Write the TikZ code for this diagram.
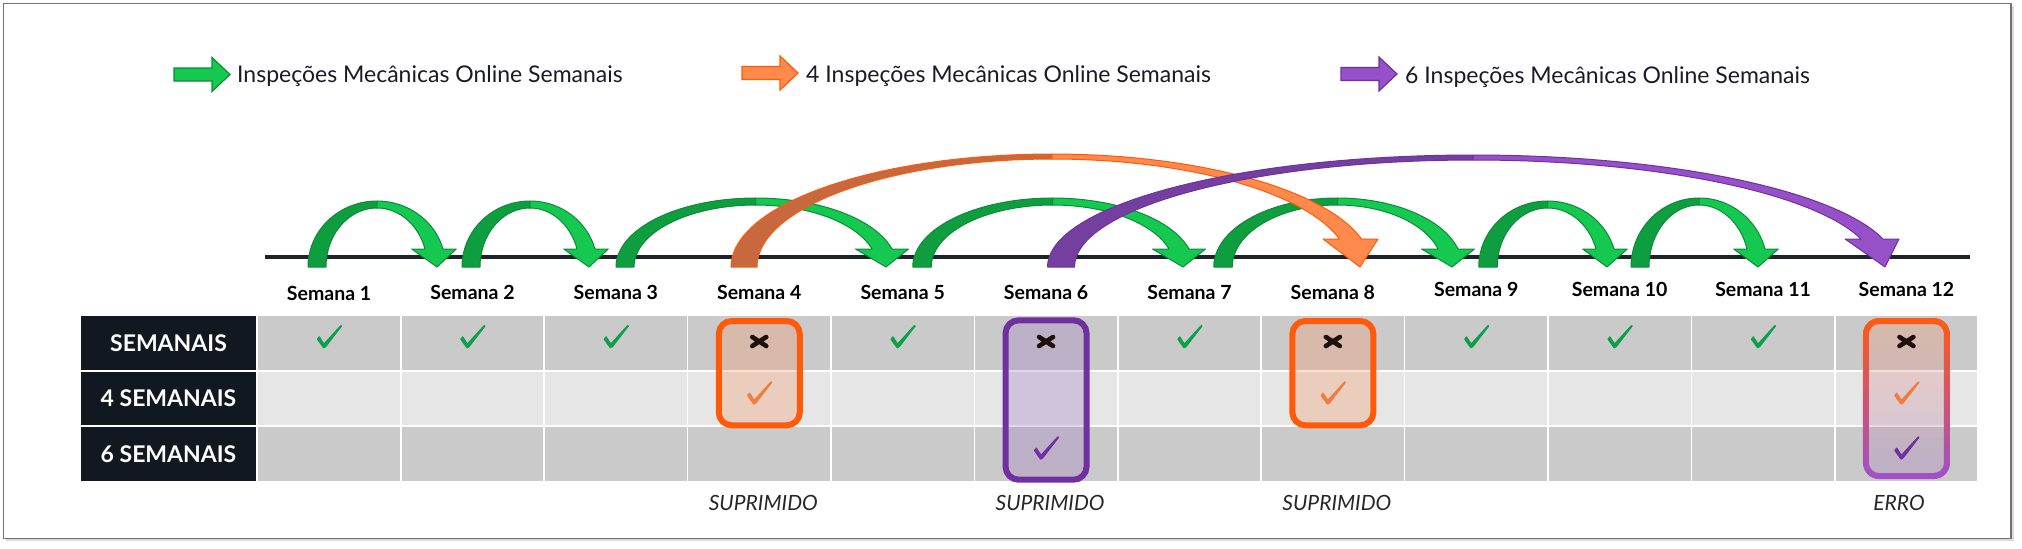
\documentclass[tikz,border=0pt]{standalone}
\usepackage{fontspec}
\setmainfont{Lato}
\definecolor{gL}{RGB}{20,200,80}
\definecolor{gD}{RGB}{14,158,64}
\definecolor{gB}{RGB}{12,140,58}
\definecolor{oL}{RGB}{255,138,76}
\definecolor{oD}{RGB}{200,104,62}
\definecolor{oB}{RGB}{255,90,10}
\definecolor{pL}{RGB}{150,80,200}
\definecolor{pD}{RGB}{115,64,160}
\definecolor{pB}{RGB}{112,48,160}
\definecolor{hdr}{RGB}{17,24,32}
\definecolor{cellA}{RGB}{202,202,202}
\definecolor{cellB}{RGB}{230,230,230}
\definecolor{tl}{RGB}{30,35,42}
\definecolor{legtext}{RGB}{26,26,40}
\definecolor{gC}{RGB}{14,160,72}
\definecolor{oC}{RGB}{240,125,60}
\definecolor{pC}{RGB}{112,48,160}
\definecolor{xC}{RGB}{32,16,12}
\definecolor{oF}{RGB}{248,150,100}
\definecolor{pF}{RGB}{160,120,195}
\definecolor{bT}{RGB}{255,90,20}
\definecolor{bM}{RGB}{232,80,140}
\definecolor{bBt}{RGB}{160,80,200}
\newcommand\arrTT{7}
\newcommand\carrow[9]{%
\pgfmathsetmacro\cxa{#1-#2/2}%
\pgfmathsetmacro\cxb{#1+#2/2}%
\pgfmathsetmacro\cxm{(#1+#3)/2}%
\pgfmathsetmacro\chx{#3-#7}%
\pgfmathsetmacro\cxr{\chx+#8}%
\pgfmathsetmacro\cxl{\chx-#8}%
\pgfmathsetmacro\cryO{267-#4}%
\pgfmathsetmacro\cryI{267-#4-\arrTT}%
\pgfmathsetmacro\ctO{asin((267-#5)/\cryO)}%
\pgfmathsetmacro\ctI{asin((267-#5)/\cryI)}%
\pgfmathsetmacro\crxOR{(\cxr-\cxm)/cos(\ctO)}%
\pgfmathsetmacro\crxIR{(\cxl-\cxm)/cos(\ctI)}%
\pgfmathsetmacro\crxOL{\cxm-\cxa}%
\pgfmathsetmacro\crxIL{\cxm-\cxb}%
\filldraw[fill=#9D, draw=#9B, line width=1pt, line join=round]
 plot[domain=180:90, samples=40] ({\cxm+\crxOL*cos(\x)},{267-\cryO*sin(\x)})
 -- plot[domain=90:180, samples=40] ({\cxm+\crxIL*cos(\x)},{267-\cryI*sin(\x)}) -- cycle;
\filldraw[fill=#9L, draw=#9B, line width=1pt, line join=round]
 plot[domain=90:\ctO, samples=40] ({\cxm+\crxOR*cos(\x)},{267-\cryO*sin(\x)})
 -- (\chx+#6,#5) -- (#3,267) -- (\chx-#6,#5)
 -- plot[domain=\ctI:90, samples=40] ({\cxm+\crxIR*cos(\x)},{267-\cryI*sin(\x)}) -- cycle;
}
\newcommand\legarrow[4]{% x0, y, fill, border
\filldraw[fill=#3, draw=#4, line width=1.2pt, line join=miter]
 (#1,#2-6.5) -- (#1+38,#2-6.5) -- (#1+38,#2-17) -- (#1+56,#2) -- (#1+38,#2+17)
 -- (#1+38,#2+6.5) -- (#1,#2+6.5) -- cycle;
}
\begin{document}
\begin{tikzpicture}[x=1pt,y=-1pt,
  cell/.style={rectangle, minimum width=141.9pt, minimum height=53.5pt, inner sep=0pt},
  hdrcell/.style={rectangle, fill=hdr, text=white, minimum width=175pt, minimum height=53.5pt, inner sep=0pt,
     font=\fontsize{23}{27}\selectfont\bfseries},
  weeklbl/.style={font=\fontsize{19.5}{23}\selectfont\bfseries, anchor=base, inner sep=0pt, text=black},
  legtxt/.style={font=\fontsize{23}{27}\selectfont, anchor=base west, inner sep=0pt, text=legtext},
  note/.style={font=\fontsize{21}{25}\selectfont\itshape, anchor=base, inner sep=0pt, text=black!85},
  chk/.pic={\fill[#1, rounded corners=0.6pt] (-12.85,2.45) -- (-10.15,-0.85) -- (-5.55,6.45) -- (11.15,-11.85)
      -- (12.85,-10.85) -- (-3.55,10.45) -- (-6.15,11.85) -- cycle;},
  xmk/.pic={\draw[xC, line width=4.6pt, line cap=round] (-7,-4.5) -- (7,4.5) (7,-4.5) -- (-7,4.5);}
]
\useasboundingbox (0,0) rectangle (2022,549);
\fill[white] (0,0) rectangle (2022,549);
% frame with shadow
\fill[black!14] (6,6) rectangle (2013.5,541);
\filldraw[fill=white, draw=black!55, line width=1.2pt] (3.5,3.5) rectangle (2011,538.5);

% legend
\legarrow{174}{74.5}{gL}{gB}
\node[legtxt] (lg1) at (237,82) {Inspeções Mecânicas Online Semanais};
\legarrow{742}{73}{oL}{oB}
\node[legtxt] (lg2) at (806,82) {4 Inspeções Mecânicas Online Semanais};
\legarrow{1341}{74}{pL}{pB}
\node[legtxt] (lg3) at (1405,83) {6 Inspeções Mecânicas Online Semanais};

% timeline
\coordinate (tlA) at (265,257);
\coordinate (tlB) at (1970,257);
\draw[tl, line width=3.2pt] (tlA) -- (tlB);

% week labels
\foreach \c/\yy in {1/300.7,2/299.3,3/299.3,4/299.3,5/299.3,6/299.3,7/299.3,8/299.3,9/296,10/296,11/296,12/296}{
  \node[weeklbl] (s\c) at ({185.65+143.4*\c},\yy) {Semana \c};
}

% table
\foreach \r/\fc in {1/cellA,2/cellB,3/cellA}{
  \foreach \c in {1,...,12}{
    \node[cell, fill=\fc] (r\r c\c) at ({185.65+143.4*\c},{316+55.5*(\r-1)+26.75}) {};
  }
}
\node[hdrcell] (h1) at (168.5,342.75) {SEMANAIS};
\node[hdrcell] (h2) at (168.5,398.25) {4 SEMANAIS};
\node[hdrcell] (h3) at (168.5,453.75) {6 SEMANAIS};

% highlight box fills
\foreach \c in {4,8}{
  \fill[oF, fill opacity=0.3, rounded corners=13pt]
    ({185.65+143.4*\c-40.5},321) rectangle ({185.65+143.4*\c+40.5},425.3);
}
\fill[pF, fill opacity=0.3, rounded corners=13pt]
    ({185.65+143.4*6-40.5},320.3) rectangle ({185.65+143.4*6+40.5},479.7);
\shade[top color=oF, bottom color=pF, fill opacity=0.3, rounded corners=13pt]
    ({185.65+143.4*12-40.5},321) rectangle ({185.65+143.4*12+40.5},476);

% marks
\foreach \c in {1,2,3,5,7,9,10,11}{ \pic at ({186.15+143.4*\c},336.7) {chk=gC}; }
\foreach \c in {4,8,12}{ \pic at ({186.15+143.4*\c},393) {chk=oC}; }
\foreach \c in {6,12}{ \pic at ({186.15+143.4*\c},448) {chk=pC}; }
\foreach \c in {4,6,8,12}{ \pic at ({185.65+143.4*\c},341.5) {xmk}; }

% highlight box borders
\foreach \c in {4,8}{
  \draw[oB, line width=6pt, rounded corners=13pt]
    ({185.65+143.4*\c-40.5},321) rectangle ({185.65+143.4*\c+40.5},425.3);
}
\draw[pB, line width=6pt, rounded corners=13pt]
    ({185.65+143.4*6-40.5},320.3) rectangle ({185.65+143.4*6+40.5},479.7);
\shade[top color=bT, middle color=bM, bottom color=bBt, even odd rule]
    [rounded corners=16pt] ({185.65+143.4*12-43.5},318) rectangle ({185.65+143.4*12+43.5},479)
    [rounded corners=10pt] ({185.65+143.4*12-37.5},324) rectangle ({185.65+143.4*12+37.5},473);

% notes
\node[note] (n4) at ({185.65+143.4*4+4},510) {SUPRIMIDO};
\node[note] (n6) at ({185.65+143.4*6+4},510) {SUPRIMIDO};
\node[note] (n8) at ({185.65+143.4*8+4},510) {SUPRIMIDO};
\node[note] (n12) at (1899,510) {ERRO};

% curved arrows: green
\carrow{317}{18}{437}{201}{249}{22.3}{3}{9}{g}
\carrow{471}{18}{589}{201}{249}{22.3}{3}{9}{g}
\carrow{625}{18}{886}{198}{249}{26.5}{4}{10}{g}
\carrow{922}{18.5}{1183}{198}{249}{26.5}{4}{10}{g}
\carrow{1223}{18.5}{1452}{198}{249}{26.5}{4}{10}{g}
\carrow{1488}{18.5}{1607}{201}{249}{22.3}{2}{9}{g}
\carrow{1640}{18}{1758}{198}{249}{22.3}{2}{9}{g}
% orange and purple
\renewcommand\arrTT{5}
\carrow{744}{26}{1360}{154}{239}{27.5}{9.5}{11}{o}
\carrow{1061}{27}{1885}{155}{239}{27}{13}{11}{p}
\end{tikzpicture}
\end{document}
